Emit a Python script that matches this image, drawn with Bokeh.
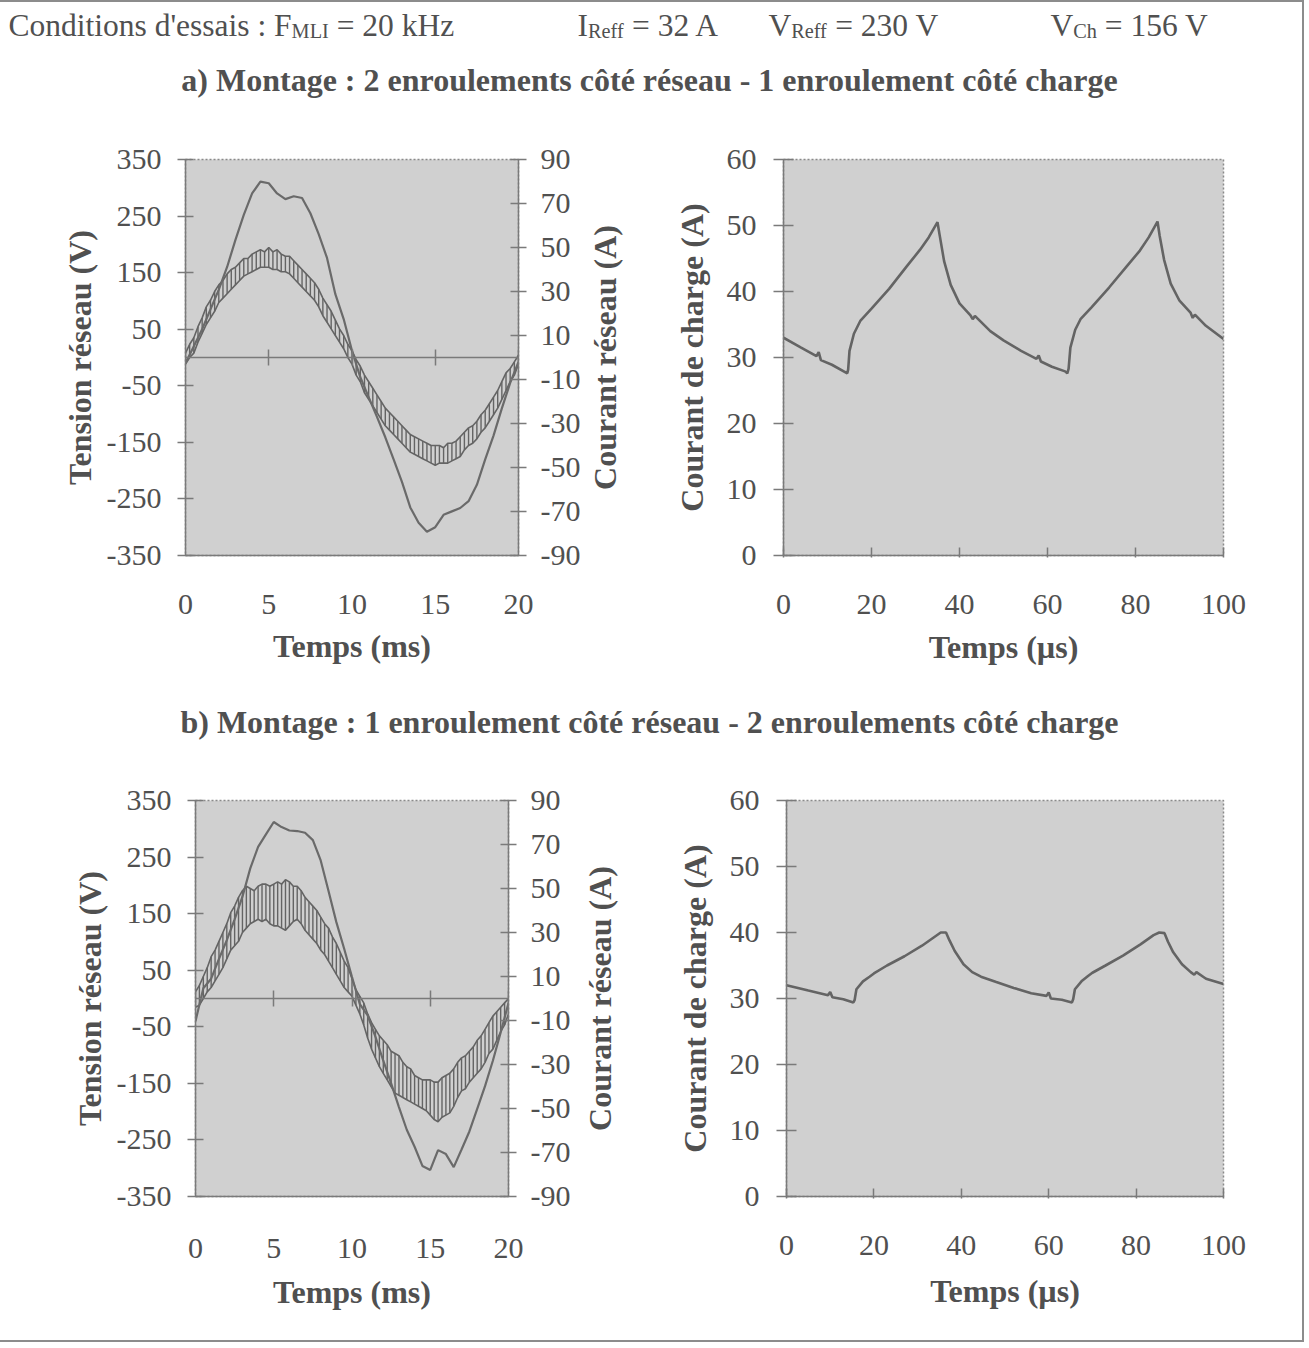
from bokeh.plotting import figure
from bokeh.models import Range1d, LinearAxis, FixedTicker, Label
from bokeh.layouts import column, row
from bokeh.embed import file_html
from bokeh.resources import INLINE

FONT = "Liberation Serif"
TXT = "#505050"
LINE = "#646464"
BG = "#d0d0d0"
AX = "#7a7a7a"

# ---------------- data ----------------
V_TICKS = [-350, -250, -150, -50, 50, 150, 250, 350]
I_TICKS = [-90, -70, -50, -30, -10, 10, 30, 50, 70, 90]
MS_TICKS = [0, 5, 10, 15, 20]
US_TICKS = [0, 20, 40, 60, 80, 100]
CH_TICKS = [0, 10, 20, 30, 40, 50, 60]

# sample times (ms)
T_V = [i * 0.5 for i in range(41)]
T_I = [i * 0.25 for i in range(81)]

# a) network voltage (V)
V_A = [-10, 20, 50, 85, 120, 160, 208, 252, 290, 311, 308, 290, 280, 285, 282, 255,
       218, 176, 112, 68, 12, -35, -70, -105, -141, -180, -220, -265, -292, -308, -300,
       -278, -272, -266, -254, -225, -180, -138, -90, -45, -8]
# a) network current envelope (A)
IA_UP = [2, 6, 9, 14, 18, 23, 26, 30, 33, 35, 38, 40, 41, 43, 45, 45, 47, 48, 49, 48,
         50, 48, 49, 47, 46, 46, 44, 42, 40, 38, 36, 34, 31, 27, 24, 21, 17, 13, 10, 6,
         3, -1, -4, -8, -11, -14, -17, -20, -23, -25, -27, -29, -31, -33, -35, -36, -37,
         -38, -39, -40, -40, -40, -41, -39, -39, -38, -36, -34, -32, -31, -29, -26, -24,
         -21, -18, -15, -11, -7, -5, -2, 1]
IA_LO = [-3, 0, 2, 7, 11, 15, 18, 21, 25, 27, 29, 31, 33, 35, 37, 38, 39, 40, 41, 41,
         41, 40, 40, 39, 39, 38, 36, 34, 32, 30, 28, 26, 23, 19, 16, 13, 10, 7, 4, 0,
         -3, -8, -11, -16, -19, -22, -25, -28, -31, -33, -35, -37, -39, -41, -43, -44,
         -45, -46, -47, -48, -49, -48, -48, -48, -47, -46, -45, -42, -40, -39, -37, -34,
         -32, -29, -26, -23, -19, -15, -11, -8, -3]

# b) network voltage (V)
V_B = [-40, 18, 35, 70, 103, 140, 180, 230, 268, 290, 312, 303, 297, 296, 293, 280,
       244, 190, 135, 88, 38, -10, -30, -68, -110, -150, -192, -232, -262, -296, -303,
       -268, -275, -298, -267, -235, -195, -155, -110, -60, -8]
# b) network current envelope (A)
IB_UP = [3, 6, 10, 14, 19, 22, 26, 30, 34, 39, 42, 46, 49, 51, 50, 49, 51, 52, 52, 51,
         52, 53, 52, 54, 53, 51, 51, 49, 46, 44, 42, 40, 37, 34, 32, 28, 25, 21, 17, 14,
         9, 4, 1, -2, -7, -11, -14, -17, -19, -21, -24, -25, -26, -29, -31, -32, -35,
         -36, -37, -37, -37, -38, -38, -36, -35, -34, -32, -29, -27, -26, -24, -22, -19,
         -17, -14, -11, -8, -6, -4, -2, 0]
IB_LO = [-4, -3, 0, 3, 5, 8, 11, 14, 18, 22, 24, 26, 30, 32, 34, 35, 36, 35, 36, 34,
         33, 33, 32, 31, 33, 35, 36, 34, 31, 29, 27, 25, 22, 20, 17, 14, 11, 8, 5, 3,
         1, -3, -7, -12, -18, -23, -27, -31, -34, -37, -40, -43, -44, -45, -46, -47, -48,
         -49, -50, -51, -53, -55, -56, -54, -53, -52, -49, -45, -42, -41, -38, -36, -34,
         -32, -29, -25, -23, -19, -15, -12, -7]

# load current, time in microseconds
TC_A = [0, 4, 7.5, 8, 8.5, 11, 14.5, 14.7, 15.0, 16.0, 17.5, 20, 24, 28, 31, 33, 35,
        35.5, 36.5, 38, 40, 42.5, 43, 43.5, 47, 50, 54, 57.5, 58, 58.5, 61, 64, 64.5,
        64.8, 65.2, 66.3, 67.5, 70, 74, 78, 81, 83, 85, 85.5, 86.5, 88, 90, 92.5, 93,
        93.5, 96, 100]
IC_A = [33.0, 31.5, 30.2, 30.8, 29.6, 28.9, 27.6, 28.2, 31.0, 33.6, 35.6, 37.4, 40.4,
        43.8, 46.3, 48.2, 50.5, 48.5, 44.6, 41.0, 38.2, 36.4, 35.8, 36.3, 34.0, 32.6,
        31.0, 29.8, 30.3, 29.4, 28.6, 27.9, 27.6, 28.3, 31.5, 34.2, 35.8, 37.6, 40.6,
        43.8, 46.2, 48.2, 50.6, 48.4, 44.8, 41.2, 38.6, 36.8, 36.0, 36.5, 34.8, 32.8]

TC_B = [0, 5, 9.5, 10, 10.5, 13, 15.3, 15.6, 16.0, 17.5, 19, 20, 23, 27, 31, 34, 35.3,
        36.5, 37.3, 38.5, 40.5, 42.5, 44.5, 48, 52, 56, 59.5, 60, 60.5, 63, 65.3, 65.6,
        66.0, 67.5, 69, 70, 73, 77, 81, 84, 85.3, 86.5, 87.3, 88.5, 90.5, 92.5, 93.3,
        93.8, 96, 100]
IC_B = [32.0, 31.2, 30.5, 31.0, 30.2, 29.9, 29.4, 29.8, 31.4, 32.6, 33.3, 33.8, 35.0,
        36.4, 38.0, 39.4, 40.0, 40.0, 38.8, 37.2, 35.2, 34.0, 33.3, 32.5, 31.6, 30.8,
        30.4, 30.9, 30.0, 29.8, 29.4, 29.9, 31.4, 32.6, 33.4, 33.9, 35.0, 36.5, 38.2,
        39.6, 40.0, 39.9, 38.6, 37.0, 35.2, 34.0, 33.6, 34.0, 33.0, 32.2]


# ---------------- helpers ----------------
def style_axis(ax, ticks=None):
    ax.major_label_text_font = FONT
    ax.major_label_text_font_size = "30px"
    ax.major_label_text_color = TXT
    ax.axis_label_text_font = FONT
    ax.axis_label_text_font_style = "bold"
    ax.axis_label_text_font_size = "32px"
    ax.axis_label_text_color = TXT
    ax.axis_line_color = AX
    ax.axis_line_width = 1.5
    ax.major_tick_line_color = AX
    ax.major_tick_line_width = 1.5
    ax.minor_tick_line_color = None
    if ticks is not None:
        ax.ticker = FixedTicker(ticks=ticks)
        ax.major_label_overrides = {t: str(t) for t in ticks}


def base_fig(width, height, bl, br, bt, bb, xr, yr):
    p = figure(width=width, height=height, min_border_left=bl, min_border_right=br,
               min_border_top=bt, min_border_bottom=bb, x_range=xr, y_range=yr,
               output_backend="svg", toolbar_location=None, tools="")
    p.grid.visible = False
    p.background_fill_color = BG
    p.border_fill_color = "white"
    p.outline_line_color = "#8a8a8a"
    p.outline_line_width = 1.5
    p.outline_line_dash = "2 2"
    return p


def network_plot(width, height, bl, br, bt, bb, volt, up, lo, lab_standoff, ax_standoff):
    p = base_fig(width, height, bl, br, bt, bb, Range1d(0, 20), Range1d(-350, 350))
    p.extra_y_ranges = {"amp": Range1d(-90, 90)}

    # left axis (voltage)
    ya = p.yaxis[0]
    style_axis(ya, V_TICKS)
    ya.axis_label = "Tension réseau (V)"
    ya.major_tick_in = 8
    ya.major_tick_out = 8
    ya.major_label_standoff = 16
    ya.axis_label_standoff = 6

    # right axis (current); its title is drawn by the narrow figure that follows
    ra = LinearAxis(y_range_name="amp")
    style_axis(ra, I_TICKS)
    ra.major_tick_in = 8
    ra.major_tick_out = 8
    ra.major_label_standoff = 14
    p.add_layout(ra, "right")

    # bottom axis: labels only
    xa = p.xaxis[0]
    style_axis(xa, MS_TICKS)
    xa.axis_label = "Temps (ms)"
    xa.major_tick_in = 0
    xa.major_tick_out = 0
    xa.major_label_standoff = lab_standoff
    xa.axis_label_standoff = ax_standoff

    # axis crossing at zero: ticks only
    za = LinearAxis(fixed_location=0)
    style_axis(za, MS_TICKS[1:])
    za.major_tick_in = 8
    za.major_tick_out = 8
    za.major_label_text_font_size = "0px"
    za.major_label_text_color = None
    za.major_label_standoff = 0
    p.add_layout(za, "above")

    # current band (PWM ripple)
    p.segment(x0=T_I, y0=lo, x1=T_I, y1=up, y_range_name="amp",
              line_color=LINE, line_width=1.4)
    p.line(T_I, up, y_range_name="amp", line_color=LINE, line_width=1.6)
    p.line(T_I, lo, y_range_name="amp", line_color=LINE, line_width=1.6)
    # voltage
    p.line(T_V, volt, line_color="#6a6a6a", line_width=2.2)
    return p


def title_strip(width, height, bt, bb, text, standoff):
    """Narrow figure whose left-axis title reads bottom-to-top, like the reference."""
    f = figure(width=width, height=height, min_border_left=width - 1, min_border_right=0,
               min_border_top=bt, min_border_bottom=bb, x_range=Range1d(0, 1),
               y_range=Range1d(-90, 90), output_backend="svg",
               toolbar_location=None, tools="")
    f.grid.visible = False
    f.xaxis.visible = False
    f.outline_line_color = None
    f.background_fill_color = "white"
    f.border_fill_color = "white"
    ax = f.yaxis[0]
    style_axis(ax)
    ax.ticker = FixedTicker(ticks=[])
    ax.axis_line_color = None
    ax.major_tick_line_color = None
    ax.major_tick_out = 0
    ax.major_tick_in = 0
    ax.major_label_text_font_size = "0px"
    ax.major_label_standoff = 0
    ax.axis_label = text
    ax.axis_label_standoff = standoff
    return f


def load_plot(width, height, bl, br, bt, bb, t, cur, lab_standoff, ax_standoff):
    p = base_fig(width, height, bl, br, bt, bb, Range1d(0, 100), Range1d(0, 60))
    ya = p.yaxis[0]
    style_axis(ya, CH_TICKS)
    ya.axis_label = "Courant de charge (A)"
    ya.major_tick_in = 10
    ya.major_tick_out = 10
    ya.major_label_standoff = 17
    ya.axis_label_standoff = 14

    xa = p.xaxis[0]
    style_axis(xa, US_TICKS)
    xa.axis_label = "Temps (µs)"
    xa.major_tick_in = 8
    xa.major_tick_out = 2
    xa.major_label_standoff = lab_standoff
    xa.axis_label_standoff = ax_standoff

    p.line(t, cur, line_color=LINE, line_width=2.6)
    return p


def text_fig(width, height):
    f = figure(width=width, height=height, x_range=Range1d(0, width),
               y_range=Range1d(height, 0), output_backend="svg",
               toolbar_location=None, tools="", min_border=0)
    f.axis.visible = False
    f.grid.visible = False
    f.outline_line_color = None
    f.background_fill_color = "white"
    f.border_fill_color = "white"
    return f


def add_text(f, x, y, text, size=31.5, bold=False, align="left"):
    f.add_layout(Label(x=x, y=y, text=text, text_font=FONT,
                       text_font_size=f"{size}px",
                       text_font_style="bold" if bold else "normal",
                       text_color=TXT, text_align=align,
                       text_baseline="alphabetic"))


W = 1302

# header
hdr = text_fig(W, 128)
add_text(hdr, 8, 23, "Conditions d'essais : F")
add_text(hdr, 291.1, 28, "MLI", size=20.3)
add_text(hdr, 336.2, 23, "= 20 kHz")
add_text(hdr, 577, 23, "I")
add_text(hdr, 587.5, 28, "Reff", size=20.3)
add_text(hdr, 631.5, 23, "= 32 A")
add_text(hdr, 768, 23, "V")
add_text(hdr, 790.7, 28, "Reff", size=20.3)
add_text(hdr, 834.7, 23, "= 230 V")
add_text(hdr, 1050, 23, "V")
add_text(hdr, 1072.7, 28, "Ch", size=20.3)
add_text(hdr, 1104.3, 23, "= 156 V")
add_text(hdr, 649, 77, "a) Montage : 2 enroulements côté réseau - 1 enroulement côté charge",
         size=32, bold=True, align="center")

# row a: [0,584) plot, [584,642) right-axis title, [642,1302) plot
pa1 = network_plot(584, 545, 185, 66, 26, 120, V_A, IA_UP, IA_LO, 39, 11)
ta = title_strip(58, 545, 26, 120, "Courant réseau (A)", 20)
pa2 = load_plot(660, 545, 141, 660 - 141 - 440, 29, 120, TC_A, IC_A, 37, 12)

sub = text_fig(W, 100)
add_text(sub, 649, 46, "b) Montage : 1 enroulement côté réseau - 2 enroulements côté charge",
         size=32, bold=True, align="center")

# row b: [0,576) plot, [576,628) right-axis title, [628,1302) plot
pb1 = network_plot(576, 545, 195, 68, 25, 124, V_B, IB_UP, IB_LO, 42, 13)
tb = title_strip(52, 545, 25, 124, "Courant réseau (A)", 10)
pb2 = load_plot(674, 545, 158, 674 - 158 - 437, 25, 120, TC_B, IC_B, 37, 15)

foot = text_fig(W, 20)

page = column(hdr, row(pa1, ta, pa2), sub, row(pb1, tb, pb2), foot,
              styles={"border-top": "2px solid #8c8c8c",
                      "border-right": "2px solid #8c8c8c",
                      "border-bottom": "2px solid #8c8c8c"})

open("out.html", "w").write(file_html(page, INLINE))
